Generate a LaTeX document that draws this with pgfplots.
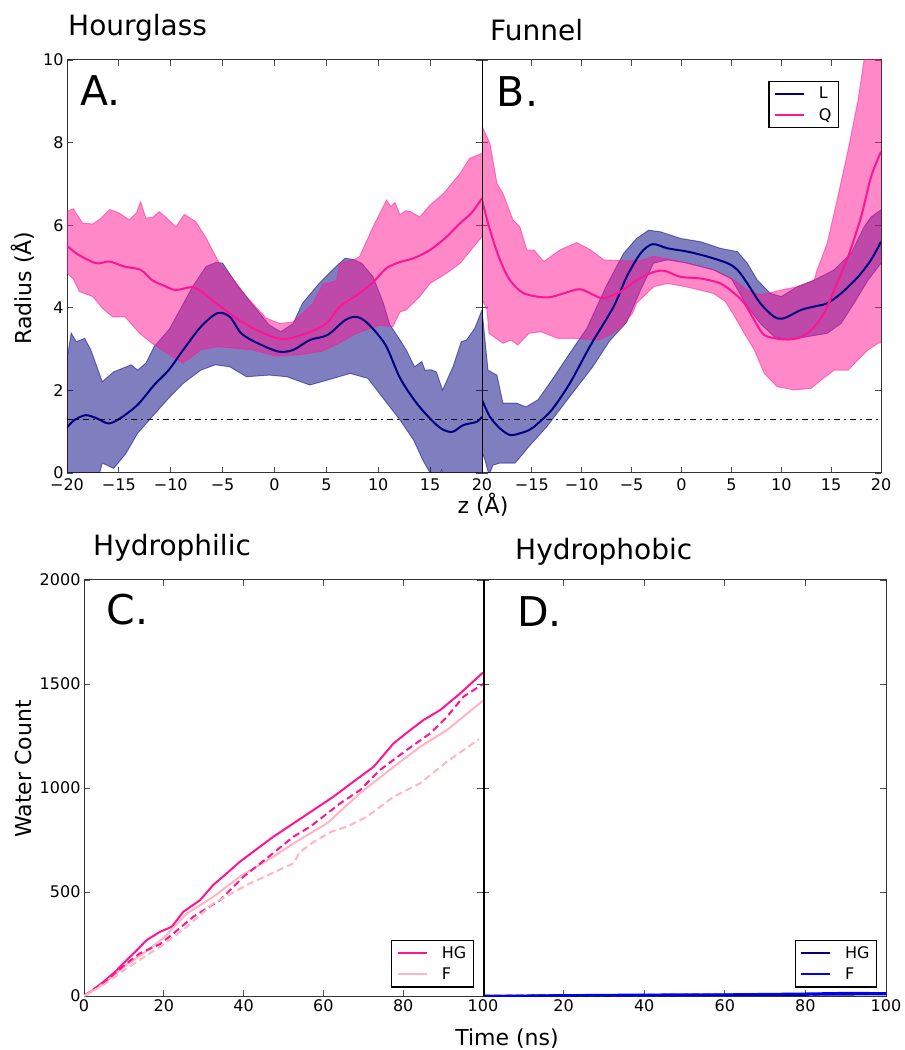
\documentclass[border=0pt]{standalone}
\usepackage{fontspec}
\setmainfont{DejaVu Sans}
\usepackage{pgfplots}
\pgfplotsset{compat=1.18}
\definecolor{lnavy}{RGB}{0,0,128}
\definecolor{qpink}{RGB}{255,20,147}
\definecolor{fpink}{RGB}{255,182,193}
\definecolor{fblue}{RGB}{0,0,255}

\pgfplotsset{
  panelstyle/.style={
    scale only axis, anchor=south west,
    tick align=inside, xtick pos=both, ytick pos=both,
    major tick length=6pt,
    tick style={black!70, line width=0.8pt},
    axis line style={black!80, line width=1pt},
    ticklabel style={font=\fontsize{16}{16}\selectfont},
    legend image code/.code={\draw[##1] (0pt,0pt) -- (29pt,0pt);},
    legend style={draw=black, line width=1.2pt, fill=white,
      font=\fontsize{16}{16}\selectfont, row sep=4pt, column sep=12pt,
      inner xsep=5pt, inner ysep=4pt,
      nodes={inner sep=2pt}, cells={anchor=west}},
  },
  radaxis/.style={panelstyle, width=#1, height=413pt,
    xmin=-20, xmax=20, ymin=0, ymax=10,
    xtick={-20,-15,...,20}, ytick={0,2,...,10}},
  wataxis/.style={panelstyle, width=#1, height=416pt,
    xmin=0, xmax=100, ymin=0, ymax=2000,
    xtick={0,20,...,100}, ytick={0,500,...,2000}},
  edgeL/.style={draw=lnavy, draw opacity=0.5, line width=0.9pt, forget plot},
  edgeQ/.style={draw=qpink, draw opacity=0.5, line width=0.9pt, forget plot},
  bandL/.style={draw=none, fill=lnavy, fill opacity=0.5, forget plot},
  bandQ/.style={draw=none, fill=qpink, fill opacity=0.5, forget plot},
  meanline/.style={draw=#1, line width=2pt, smooth, tension=0.5},
  cutoff/.style={black, line width=1.4pt, dash pattern=on 5.5pt off 4.5pt on 1.5pt off 4.5pt, forget plot},
}

\begin{document}
\begin{tikzpicture}
\fill[white] (0pt,0pt) rectangle (903pt,1050pt);

% ---------------- A: Hourglass ----------------
\begin{axis}[radaxis=415pt, at={(67pt,577pt)},
  xticklabels={−20,−15,−10,−5,0,5,10,15,20},
  yticklabels={0,2,4,6,8,10},
  xticklabel style={yshift=-2pt}]
% L band (upper edge, then lower edge backwards)
\addplot[bandL] coordinates {
 (-20,2.74) (-19.6,3.39) (-19.1,3.18) (-18.3,3.26) (-17.7,2.98) (-16.6,2.21) (-15.5,2.45)
 (-13.8,2.62) (-13.2,2.49) (-12.4,2.66) (-11.6,3.06) (-10.5,3.38) (-10.1,3.5) (-7.9,4.51)
 (-6.6,5.0) (-5.6,5.1) (-5.0,5.08) (-3.7,4.59) (-2.1,4.07) (-0.5,3.58) (0.6,3.42) (1.8,3.62)
 (2.7,4.11) (4.3,4.59) (5.6,4.92) (6.8,5.2) (7.6,5.17) (8.4,5.08) (9.5,4.75) (10.5,4.11)
 (11.1,3.6) (12.1,3.22) (12.7,2.98) (13.5,2.57) (14.2,2.7) (14.5,2.49) (15.1,2.5) (15.6,2.45)
 (16.2,2.01) (17.2,2.57) (18,3.18) (18.5,3.22) (19.3,3.5) (20,3.95)
 (20,-0.5) (16.5,-0.2) (16.1,0.07) (15.8,-0.1) (15.1,-0.05) (14.3,0.31) (13.4,0.8) (12.1,1.28)
 (10.1,1.93) (9.0,2.29) (7.3,2.41) (5.1,2.25) (3.4,2.13) (1.2,2.33) (-0.5,2.37) (-2.7,2.33)
 (-4.3,2.57) (-5.7,2.62) (-7.1,2.49) (-8.8,2.17) (-10.2,1.81) (-11.8,1.36) (-13.2,0.96)
 (-14.3,0.48) (-15.5,0.11) (-16.6,0.24) (-16.9,-0.05) (-20,-0.3)} -- cycle;
\addplot[edgeL] coordinates {
 (-20,2.74) (-19.6,3.39) (-19.1,3.18) (-18.3,3.26) (-17.7,2.98) (-16.6,2.21) (-15.5,2.45)
 (-13.8,2.62) (-13.2,2.49) (-12.4,2.66) (-11.6,3.06) (-10.5,3.38) (-10.1,3.5) (-7.9,4.51)
 (-6.6,5.0) (-5.6,5.1) (-5.0,5.08) (-3.7,4.59) (-2.1,4.07) (-0.5,3.58) (0.6,3.42) (1.8,3.62)
 (2.7,4.11) (4.3,4.59) (5.6,4.92) (6.8,5.2) (7.6,5.17) (8.4,5.08) (9.5,4.75) (10.5,4.11)
 (11.1,3.6) (12.1,3.22) (12.7,2.98) (13.5,2.57) (14.2,2.7) (14.5,2.49) (15.1,2.5) (15.6,2.45)
 (16.2,2.01) (17.2,2.57) (18,3.18) (18.5,3.22) (19.3,3.5) (20,3.95)};
\addplot[edgeL] coordinates {
 (-20,-0.3) (-16.9,-0.05) (-16.6,0.24) (-15.5,0.11) (-14.3,0.48) (-13.2,0.96) (-11.8,1.36)
 (-10.2,1.81) (-8.8,2.17) (-7.1,2.49) (-5.7,2.62) (-4.3,2.57) (-2.7,2.33) (-0.5,2.37)
 (1.2,2.33) (3.4,2.13) (5.1,2.25) (7.3,2.41) (9.0,2.29) (10.1,1.93) (12.1,1.28) (13.4,0.8)
 (14.3,0.31) (15.1,-0.05) (15.8,-0.1) (16.1,0.07) (16.5,-0.2) (20,-0.5)};
% Q band
\addplot[bandQ] coordinates {
 (-20,6.33) (-19.4,6.4) (-18.5,6.05) (-17.5,6.03) (-16.8,6.15) (-15.9,6.38) (-15,6.3)
 (-14,6.13) (-13.3,6.3) (-12.9,6.57) (-12.4,6.17) (-11.7,6.2) (-11.1,6.33) (-10.5,6.2)
 (-9.5,5.96) (-8.7,6.26) (-7.6,6.09) (-6.6,5.7) (-6,5.4) (-5.3,5.08) (-4,4.7) (-2.7,4.27)
 (-0.8,3.75) (0.5,3.62) (1.8,3.66) (3.7,4.1) (4.7,4.59) (5.3,4.6) (6.0,4.67) (6.3,5.08)
 (7.6,5.16) (8.2,5.24) (9.5,5.96) (10.8,6.61) (11.2,6.45) (11.6,6.55) (12.1,6.25) (12.6,6.35)
 (13.1,6.33) (14,6.2) (15,6.49) (16.3,6.77) (17.9,7.26) (18.8,7.62) (20,7.74)
 (20,5.72) (19.2,5.48) (17.9,5.08) (16.6,4.84) (15,4.59) (14,4.27) (12.7,3.95) (12.1,3.9)
 (11.4,3.54) (10.1,3.58) (7.9,3.38) (6.2,3.14) (4.5,2.94) (2.3,2.86) (0.1,2.83) (-2.1,2.98)
 (-5.5,3.06) (-7.1,2.98) (-8.8,2.66) (-9.9,2.82) (-11.8,3.14) (-13,3.38) (-14.4,3.78)
 (-15.6,3.78) (-16.6,3.99) (-17.5,4.27) (-18.8,4.39) (-19.4,4.7) (-20,4.84)} -- cycle;
\addplot[edgeQ] coordinates {
 (-20,6.33) (-19.4,6.4) (-18.5,6.05) (-17.5,6.03) (-16.8,6.15) (-15.9,6.38) (-15,6.3)
 (-14,6.13) (-13.3,6.3) (-12.9,6.57) (-12.4,6.17) (-11.7,6.2) (-11.1,6.33) (-10.5,6.2)
 (-9.5,5.96) (-8.7,6.26) (-7.6,6.09) (-6.6,5.7) (-6,5.4) (-5.3,5.08) (-4,4.7) (-2.7,4.27)
 (-0.8,3.75) (0.5,3.62) (1.8,3.66) (3.7,4.1) (4.7,4.59) (5.3,4.6) (6.0,4.67) (6.3,5.08)
 (7.6,5.16) (8.2,5.24) (9.5,5.96) (10.8,6.61) (11.2,6.45) (11.6,6.55) (12.1,6.25) (12.6,6.35)
 (13.1,6.33) (14,6.2) (15,6.49) (16.3,6.77) (17.9,7.26) (18.8,7.62) (20,7.74)};
\addplot[edgeQ] coordinates {
 (-20,4.84) (-19.4,4.7) (-18.8,4.39) (-17.5,4.27) (-16.6,3.99) (-15.6,3.78) (-14.4,3.78)
 (-13,3.38) (-11.8,3.14) (-9.9,2.82) (-8.8,2.66) (-7.1,2.98) (-5.5,3.06) (-2.1,2.98)
 (0.1,2.83) (2.3,2.86) (4.5,2.94) (6.2,3.14) (7.9,3.38) (10.1,3.58) (11.4,3.54) (12.1,3.9)
 (12.7,3.95) (14,4.27) (15,4.59) (16.6,4.84) (17.9,5.08) (19.2,5.48) (20,5.72)};
% means
\addplot[meanline=lnavy] coordinates {
 (-20,1.1) (-19.3,1.28) (-18.2,1.4) (-17.1,1.32) (-16,1.2) (-14.9,1.32) (-13.2,1.65)
 (-11.6,2.13) (-10.2,2.49) (-8.8,2.98) (-7.1,3.54) (-5.5,3.87) (-4.3,3.78) (-3.2,3.38)
 (-1.6,3.14) (0.4,2.94) (1.8,2.98) (3.4,3.22) (5.1,3.34) (6.8,3.7) (7.9,3.78) (9.0,3.62)
 (10.7,3.1) (12.1,2.3) (13.7,1.69) (15.3,1.24) (16.3,1.04) (17.2,1.0) (18.2,1.16)
 (19.5,1.24) (20,1.36)};
\addplot[meanline=qpink] coordinates {
 (-20,5.5) (-19,5.3) (-17.2,5.08) (-15.9,5.12) (-14.5,5.0) (-12.9,4.92) (-11.8,4.67)
 (-10.5,4.52) (-9.5,4.43) (-7.9,4.5) (-6.8,4.35) (-5.6,4.1) (-4.5,3.9) (-3.4,3.7)
 (-1.4,3.42) (0.8,3.24) (3.06,3.38) (5.0,3.62) (6.3,4.03) (8.2,4.35) (9.5,4.62) (10.8,4.96)
 (12,5.1) (13.4,5.2) (15.0,5.4) (16.5,5.7) (17.9,6.05) (19,6.3) (20,6.65)};
\addplot[cutoff] coordinates {(-20,1.3) (20,1.3)};
\node[anchor=base west, font=\fontsize{41}{41}\selectfont, inner sep=0pt]
  at (rel axis cs:0.031,0.891) {A.};
\end{axis}

% ---------------- B: Funnel ----------------
\begin{axis}[radaxis=399pt, at={(482pt,577pt)},
  xtick={-15,-10,...,20},
  xticklabels={−15,−10,−5,0,5,10,15,20},
  yticklabels={},
  xticklabel style={yshift=-2pt},
  legend style={at={(0.895,0.95)}, anchor=north east}]
\addplot[bandL] coordinates {
 (-20,3.95) (-19.4,2.49) (-18.5,2.37) (-17.9,1.69) (-16.5,1.69) (-15.6,1.6) (-14.4,1.77)
 (-13,2.25) (-11.2,2.9) (-9.5,3.5) (-7.5,4.55) (-5.8,5.32) (-4.5,5.68) (-3.3,5.88)
 (-2.1,5.84) (-0.1,5.68) (1.9,5.6) (3.9,5.44) (5.6,5.36) (6.6,5.08) (7.6,4.67) (8.9,4.35)
 (10,4.27) (11.6,4.51) (13.3,4.67) (15.3,4.92) (17,5.32) (18.3,5.96) (19,6.2) (20,6.37)
 (20,5.08) (18.7,4.67) (17.3,4.11) (16,3.62) (14.6,3.38) (12.6,3.3) (10.6,3.22) (9.3,3.3)
 (7.9,3.62) (6.6,4.03) (5,4.7) (3.2,4.92) (0.6,5.08) (-1.4,5.16) (-2.8,5.08) (-4.1,4.43)
 (-5.5,3.65) (-7.2,3.2) (-8.9,2.57) (-11.2,1.85) (-13.5,1.12) (-15.3,0.64) (-16.4,0.32)
 (-16.7,0.24) (-18.2,0.24) (-18.9,0.19) (-19.3,-0.05) (-19.7,0.31) (-20,0.5)} -- cycle;
\addplot[edgeL] coordinates {
 (-20,3.95) (-19.4,2.49) (-18.5,2.37) (-17.9,1.69) (-16.5,1.69) (-15.6,1.6) (-14.4,1.77)
 (-13,2.25) (-11.2,2.9) (-9.5,3.5) (-7.5,4.55) (-5.8,5.32) (-4.5,5.68) (-3.3,5.88)
 (-2.1,5.84) (-0.1,5.68) (1.9,5.6) (3.9,5.44) (5.6,5.36) (6.6,5.08) (7.6,4.67) (8.9,4.35)
 (10,4.27) (11.6,4.51) (13.3,4.67) (15.3,4.92) (17,5.32) (18.3,5.96) (19,6.2) (20,6.37)};
\addplot[edgeL] coordinates {
 (-20,0.5) (-19.7,0.31) (-19.3,-0.05) (-18.9,0.19) (-18.2,0.24) (-16.7,0.24) (-16.4,0.32)
 (-15.3,0.64) (-13.5,1.12) (-11.2,1.85) (-8.9,2.57) (-7.2,3.2) (-5.5,3.65) (-4.1,4.43)
 (-2.8,5.08) (-1.4,5.16) (0.6,5.08) (3.2,4.92) (5,4.7) (6.6,4.03) (7.9,3.62) (9.3,3.3)
 (10.6,3.22) (12.6,3.3) (14.6,3.38) (16,3.62) (17.3,4.11) (18.7,4.67) (20,5.08)};
\addplot[bandQ] coordinates {
 (-20,8.4) (-19.2,7.98) (-18.5,7.01) (-17.9,6.77) (-16.9,6.13) (-16.2,5.96) (-15.5,5.4)
 (-14.8,5.4) (-13.8,5.12) (-12.2,5.4) (-10.5,5.58) (-9.1,5.4) (-7.8,5.16) (-5.8,5.14)
 (-4.1,5.14) (-2.8,5.25) (-0.1,5.12) (3.2,4.92) (5.3,4.67) (6.6,4.43) (7.9,4.31) (10,4.43)
 (11.6,4.51) (13.3,4.67) (13.6,4.92) (14.6,5.56) (15.6,6.61) (16.7,7.82) (17.7,9.03)
 (18.3,10) (19,10.8) (20,11)
 (20,3.15) (19.7,3.14) (18.7,2.98) (17.7,2.74) (16.7,2.49) (15.3,2.49) (14,2.25) (13,2.05)
 (11.3,2.01) (9.6,2.09) (8.3,2.41) (7.3,2.98) (6.3,3.38) (5.3,3.8) (4.4,4.15) (3.2,4.35)
 (0.6,4.5) (-1.4,4.59) (-2.8,4.51) (-4.5,4.11) (-4.9,3.87) (-6.0,3.54) (-7.2,3.34)
 (-8.3,3.22) (-10.7,3.26) (-12.4,3.26) (-14.1,3.42) (-15.3,3.38) (-16.4,3.1) (-17.1,3.22)
 (-17.9,3.14) (-19.3,3.38) (-19.5,3.95) (-20,4.2)} -- cycle;
\addplot[edgeQ] coordinates {
 (-20,8.4) (-19.2,7.98) (-18.5,7.01) (-17.9,6.77) (-16.9,6.13) (-16.2,5.96) (-15.5,5.4)
 (-14.8,5.4) (-13.8,5.12) (-12.2,5.4) (-10.5,5.58) (-9.1,5.4) (-7.8,5.16) (-5.8,5.14)
 (-4.1,5.14) (-2.8,5.25) (-0.1,5.12) (3.2,4.92) (5.3,4.67) (6.6,4.43) (7.9,4.31) (10,4.43)
 (11.6,4.51) (13.3,4.67) (13.6,4.92) (14.6,5.56) (15.6,6.61) (16.7,7.82) (17.7,9.03)
 (18.3,10) (19,10.8) (20,11)};
\addplot[edgeQ] coordinates {
 (-20,4.2) (-19.5,3.95) (-19.3,3.38) (-17.9,3.14) (-17.1,3.22) (-16.4,3.1) (-15.3,3.38)
 (-14.1,3.42) (-12.4,3.26) (-10.7,3.26) (-8.3,3.22) (-7.2,3.34) (-6.0,3.54) (-4.9,3.87)
 (-4.5,4.11) (-2.8,4.51) (-1.4,4.59) (0.6,4.5) (3.2,4.35) (4.4,4.15) (5.3,3.8) (6.3,3.38)
 (7.3,2.98) (8.3,2.41) (9.6,2.09) (11.3,2.01) (13,2.05) (14,2.25) (15.3,2.49) (16.7,2.49)
 (17.7,2.74) (18.7,2.98) (19.7,3.14) (20,3.15)};
\addplot[meanline=lnavy] coordinates {
 (-20,1.77) (-19.2,1.36) (-18.2,1.08) (-17.2,0.92) (-16.2,0.96) (-15.2,1.05) (-14.4,1.2)
 (-13,1.53) (-11.2,2.17) (-9.1,3.1) (-6.8,4.03) (-5.5,4.75) (-4.1,5.32) (-2.9,5.54)
 (-1.4,5.44) (0.6,5.36) (2.6,5.24) (4.6,5.08) (5.6,4.92) (6.6,4.59) (7.9,4.11) (9.3,3.78)
 (10.3,3.75) (12,3.95) (13.3,4.03) (14.6,4.11) (16,4.35) (17.7,4.75) (19,5.16) (20,5.6)};
\addlegendentry{L}
\addplot[meanline=qpink] coordinates {
 (-20,6.61) (-19.2,5.88) (-18.2,5.16) (-17.2,4.67) (-15.8,4.35) (-13.5,4.25) (-11.8,4.35)
 (-10.2,4.45) (-8.8,4.31) (-7.8,4.23) (-6.1,4.39) (-4.5,4.67) (-3.1,4.84) (-1.8,4.9)
 (-0.1,4.75) (1.9,4.71) (3.9,4.59) (5.3,4.35) (6.3,4.11) (7.3,3.7) (8.3,3.34) (10,3.24)
 (11.6,3.26) (13,3.46) (14.3,3.87) (15.3,4.43) (16.7,5.24) (18,6.2) (19,7.17) (20,7.78)};
\addlegendentry{Q}
\addplot[cutoff] coordinates {(-20,1.3) (20,1.3)};
\draw[black, line width=1.6pt] (rel axis cs:0,0) -- (rel axis cs:0,1);
\node[anchor=base west, font=\fontsize{41}{41}\selectfont, inner sep=0pt]
  at (rel axis cs:0.037,0.887) {B.};
\end{axis}

% ---------------- C: Hydrophilic ----------------
\begin{axis}[wataxis=399pt, at={(84pt,54pt)},
  xticklabels={0,20,40,60,80,100},
  yticklabels={0,500,1000,1500,2000},
  legend style={at={(0.977,0.02)}, anchor=south east}]
\addplot[qpink, line width=2pt] coordinates {
 (0,0) (2,25) (5,70) (8,120) (10.7,173) (13,215) (15.7,269) (19.1,309) (22,333) (24.9,405)
 (29.1,461) (32.4,534) (35.8,590) (39.1,646) (44.1,718) (47.5,766) (52.5,830) (57.5,894)
 (62.5,958) (67.5,1030) (72.6,1102) (77.6,1215) (81.8,1279) (85.1,1327) (89.3,1375)
 (94.3,1455) (100,1555)};
\addlegendentry{HG}
\addplot[fpink, line width=2pt] coordinates {
 (0,0) (5,60) (10,140) (14.9,205) (20,280) (25.8,397) (32.4,477) (39.1,574) (47.5,670)
 (52.5,734) (60.9,830) (69.2,975) (77.6,1102) (84.3,1199) (91,1279) (100,1420)};
\addlegendentry{F}
\addplot[qpink, line width=2pt, dash pattern=on 7pt off 4pt, forget plot] coordinates {
 (0,0) (5,65) (10.7,157) (14,205) (19.1,250) (23,310) (27.4,381) (34.1,461) (40,574)
 (45.8,662) (52.5,766) (56.7,814) (64.2,926) (69.2,990) (74.2,1087) (80.9,1183)
 (86.8,1263) (91,1343) (95.1,1439) (100,1500)};
\addplot[fpink, line width=2pt, dash pattern=on 7pt off 4pt, forget plot] coordinates {
 (0,0) (5,55) (10.7,133) (19.1,237) (25.8,333) (32.4,445) (40.8,534) (52.5,638) (54,690)
 (57.5,740) (62,790) (66,815) (70.9,862) (77.6,958) (84.3,1023) (91,1127) (99,1235)};
\node[anchor=base west, font=\fontsize{41}{41}\selectfont, inner sep=0pt]
  at (rel axis cs:0.057,0.892) {C.};
\end{axis}

% ---------------- D: Hydrophobic ----------------
\begin{axis}[wataxis=403pt, at={(483pt,54pt)},
  xtick={20,40,...,100},
  xticklabels={20,40,60,80,100},
  yticklabels={},
  legend style={at={(0.978,0.02)}, anchor=south east}]
\addplot[lnavy, line width=2pt] coordinates {
 (0,0) (20,2) (40,4) (60,5) (80,6) (100,8)};
\addlegendentry{HG}
\addplot[fblue, line width=2pt] coordinates {
 (0,0) (20,4) (40,7) (60,8) (80,12) (90,15) (100,14)};
\addlegendentry{F}
\addplot[lnavy, line width=2pt, dash pattern=on 7pt off 4pt, forget plot] coordinates {
 (0,0) (40,3) (80,6) (90,12) (100,10)};
\addplot[fblue, line width=2pt, dash pattern=on 7pt off 4pt, forget plot] coordinates {
 (0,0) (40,5) (80,9) (90,11) (100,12)};
\draw[black, line width=3pt] (rel axis cs:0,0) -- (rel axis cs:0,1);
\node[anchor=base west, font=\fontsize{41}{41}\selectfont, inner sep=0pt]
  at (rel axis cs:0.084,0.888) {D.};
\end{axis}

% ---------------- titles and labels ----------------
\node[anchor=base west, font=\fontsize{28}{28}\selectfont, inner sep=0pt] at (68pt,1014pt) {Hourglass};
\node[anchor=base west, font=\fontsize{28}{28}\selectfont, inner sep=0pt] at (490pt,1009pt) {Funnel};
\node[anchor=base west, font=\fontsize{28}{28}\selectfont, inner sep=0pt] at (93pt,494pt) {Hydrophilic};
\node[anchor=base west, font=\fontsize{28}{28}\selectfont, inner sep=0pt] at (515pt,490pt) {Hydrophobic};
\node[rotate=90, font=\fontsize{22}{22}\selectfont, inner sep=0pt] at (23pt,762pt) {Radius (Å)};
\node[rotate=90, font=\fontsize{22}{22}\selectfont, inner sep=0pt] at (23pt,281pt) {Water Count};
\node[anchor=base, font=\fontsize{22}{22}\selectfont, inner sep=0pt] at (483pt,536pt) {z (Å)};
\node[anchor=base, font=\fontsize{22}{22}\selectfont, inner sep=0pt] at (507pt,5pt) {Time (ns)};
\useasboundingbox (0pt,0pt) rectangle (903pt,1050pt);
\end{tikzpicture}
\end{document}
